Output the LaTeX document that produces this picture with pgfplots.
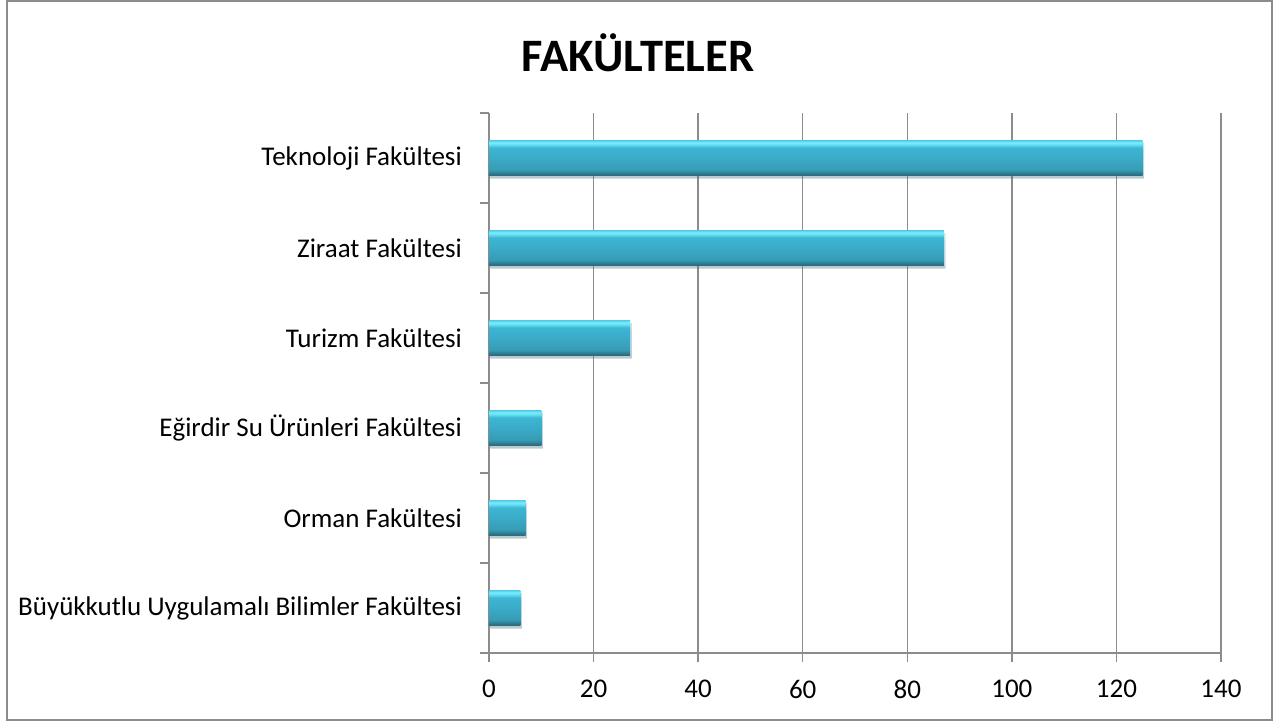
\documentclass[border=0pt]{standalone}
\usepackage{fontspec}
\setmainfont{Carlito}
\usepackage{pgfplots}
\pgfplotsset{compat=1.18}
\usetikzlibrary{shadows}
\definecolor{gridgray}{HTML}{8C8C8C}
\definecolor{sA}{HTML}{2A6878}
\definecolor{sB}{HTML}{2E8196}
\definecolor{sC}{HTML}{379BB5}
\definecolor{sD}{HTML}{3AABC8}
\definecolor{sE}{HTML}{3DB6D4}
\definecolor{sF}{HTML}{62DCF2}
\definecolor{sG}{HTML}{78EEFF}
\definecolor{sH}{HTML}{58CEE6}
\pgfdeclareverticalshading{barshade}{100bp}{color(0bp)=(sA); color(25bp)=(sA); color(29bp)=(sB); color(33bp)=(sC); color(50bp)=(sD); color(65bp)=(sE); color(69bp)=(sF); color(72bp)=(sG); color(75bp)=(sH); color(100bp)=(sH)}
\pgfplotsset{mybar/.style={xbar, bar width=35pt, bar shift=0pt, draw=none,
  shading=barshade,
  drop shadow={shadow xshift=1.5pt, shadow yshift=-3pt, opacity=0.22}}}
\begin{document}
\begin{tikzpicture}[x=1pt,y=1pt]
\useasboundingbox (0,0) rectangle (1286,722);
\draw[gridgray, line width=1.5pt] (7,2) rectangle (1272,721);
\node[font=\fontsize{46.5}{52}\selectfont\bfseries] at (638,669) {FAKÜLTELER};
\begin{axis}[
  at={(489pt,69pt)}, anchor=south west,
  scale only axis, width=732pt, height=540pt,
  xmin=0, xmax=140, ymin=0, ymax=6,
  xtick={0,20,...,140},
  ytick={0,1,...,6},
  y tick label as interval,
  yticklabels={Büyükkutlu Uygulamalı Bilimler Fakültesi, Orman Fakültesi, Eğirdir Su Ürünleri Fakültesi, Turizm Fakültesi, Ziraat Fakültesi, Teknoloji Fakültesi},
  axis x line*=bottom, axis y line*=left,
  axis line style={gridgray, line width=1.5pt, -},
  xmajorgrids, major grid style={gridgray, line width=1.5pt},
  tick align=outside, major tick length=9pt,
  major tick style={gridgray, line width=1.5pt},
  tick label style={font=\fontsize{27}{31}\selectfont},
  /pgf/number format/assume math mode=true,
  yticklabel style={inner sep=0pt, xshift=-18pt},
  xticklabel style={inner sep=0pt, yshift=-18pt},
]
\addplot[mybar] coordinates {(6,0.5)};
\addplot[mybar] coordinates {(7,1.5)};
\addplot[mybar] coordinates {(10,2.5)};
\addplot[mybar] coordinates {(27,3.5)};
\addplot[mybar] coordinates {(87,4.5)};
\addplot[mybar] coordinates {(125,5.5)};
\end{axis}
\end{tikzpicture}
\end{document}
